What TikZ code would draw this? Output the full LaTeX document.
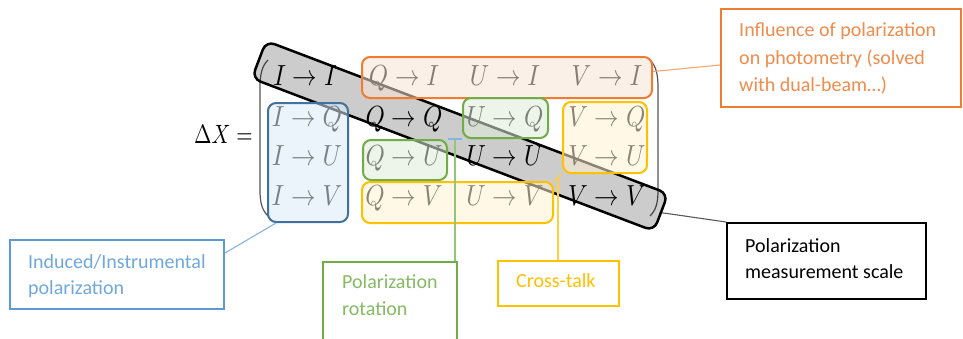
\documentclass[tikz,border=0pt]{standalone}
\usepackage{fontspec}
\usepackage{graphicx}
\newfontfamily\carlito{Carlito}
\usetikzlibrary{calc}
\definecolor{cOr}{HTML}{ED7D31}
\definecolor{cOrF}{RGB}{247,227,214}
\definecolor{cOrL}{HTML}{F4A66E}
\definecolor{cOrT}{HTML}{F08C4C}
\definecolor{cBlD}{HTML}{41719C}
\definecolor{cBlF}{RGB}{218,233,247}
\definecolor{cBl}{HTML}{5B9BD5}
\definecolor{cBlL}{HTML}{85B4E2}
\definecolor{cBlT}{HTML}{6FA8DC}
\definecolor{cGr}{HTML}{70AD47}
\definecolor{cGrF}{RGB}{223,236,217}
\definecolor{cGrL}{HTML}{95C677}
\definecolor{cGrT}{HTML}{86BA63}
\definecolor{cYe}{HTML}{FFC000}
\definecolor{cYeF}{RGB}{255,242,209}
\definecolor{cYeL}{HTML}{FFCF40}
\definecolor{cPar}{HTML}{555555}
\newcommand\mxe[1]{\scalebox{2.45}[2.91]{$#1$}}
\begin{document}
\begin{tikzpicture}[x=1pt,y=-1pt,
  entry/.style={inner sep=0pt, anchor=base},
  mbox/.style={rounded corners=8pt, line width=2pt, fill opacity=0.55, draw opacity=1, inner sep=0pt},
  bandbox/.style={rounded corners=9pt, line width=2.5pt, draw=black, fill=black, fill opacity=0.2, inner sep=0pt},
  lbox/.style={line width=2pt, inner sep=0pt, fill=white},
  ltext/.style={inner sep=0pt, anchor=north west, align=left, font=\carlito\fontsize{20}{26.5}\selectfont},
  conn/.style={line width=1.1pt}
]
\useasboundingbox (0,0) rectangle (963,338);

% parentheses
\draw[cPar, line width=1.2pt] (268,60) .. controls (262,66) and (260,74) .. (260,88) -- (260,190) .. controls (260,203) and (262,210) .. (268,216);
\draw[cPar, line width=1.2pt] (650,60) .. controls (656,66) and (658,74) .. (658,88) -- (658,190) .. controls (658,203) and (656,210) .. (650,216);

% Delta X =
\node[inner sep=0pt, anchor=base east] (dx) at (253,143) {\scalebox{2.1}[2.65]{$\Delta X =$}};

% matrix entries
\node[entry] (e11) at (305,85) {\mxe{I\rightarrow I}};
\node[entry] (e12) at (404,85) {\mxe{Q\rightarrow I}};
\node[entry] (e13) at (505,85) {\mxe{U\rightarrow I}};
\node[entry] (e14) at (607,85) {\mxe{V\rightarrow I}};
\node[entry] (e21) at (307,126) {\mxe{I\rightarrow Q}};
\node[entry] (e22) at (404,126) {\mxe{Q\rightarrow Q}};
\node[entry] (e23) at (505,126) {\mxe{U\rightarrow Q}};
\node[entry] (e24) at (607,126) {\mxe{V\rightarrow Q}};
\node[entry] (e31) at (307,165) {\mxe{I\rightarrow U}};
\node[entry] (e32) at (404,165) {\mxe{Q\rightarrow U}};
\node[entry] (e33) at (505,165) {\mxe{U\rightarrow U}};
\node[entry] (e34) at (607,165) {\mxe{V\rightarrow U}};
\node[entry] (e41) at (307,205) {\mxe{I\rightarrow V}};
\node[entry] (e42) at (404,205) {\mxe{Q\rightarrow V}};
\node[entry] (e43) at (505,205) {\mxe{U\rightarrow V}};
\node[entry] (e44) at (607,205) {\mxe{V\rightarrow V}};

% diagonal band
\node[bandbox, rotate=-20.8, minimum width=430pt, minimum height=40pt] (band) at (460,136) {};

% coloured boxes
\node[mbox, draw=cOr, fill=cOrF, minimum width=290pt, minimum height=41pt] (mo) at (507,77.5) {};
\node[mbox, draw=cBlD, fill=cBlF, minimum width=80pt, minimum height=119pt] (mb) at (308,162.5) {};
\node[mbox, draw=cGr, fill=cGrF, minimum width=85pt, minimum height=40pt] (mgu) at (505.5,118) {};
\node[mbox, draw=cGr, fill=cGrF, minimum width=84pt, minimum height=40pt] (mgq) at (405,160) {};
\node[mbox, draw=cYe, fill=cYeF, minimum width=84pt, minimum height=71pt] (yvq) at (605,137.5) {};
\node[mbox, draw=cYe, fill=cYeF, minimum width=191pt, minimum height=41pt] (yqv) at (457.5,202.5) {};

% label boxes
\node[lbox, draw=cOr, minimum width=240pt, minimum height=98pt] (ob) at (841,58) {};
\node[lbox, draw=cBl, minimum width=214pt, minimum height=69pt] (bb) at (117,274.5) {};
\node[lbox, draw=cGr, minimum width=134pt, minimum height=78pt] (gb) at (390,301) {};
\node[lbox, draw=cYe, minimum width=121pt, minimum height=45pt] (yb) at (558.5,283.5) {};
\node[lbox, draw=black, minimum width=199pt, minimum height=76pt] (kb) at (826.5,261) {};

% label texts
\node[ltext, text=cOrT, font=\carlito\fontsize{20}{27.3}\selectfont] (ot) at (739,20.5) {\rule{0pt}{16pt}Influence of polarization\\on photometry (solved\\with dual-beam…)};
\node[ltext, text=cBlT] (bt) at (28,252) {\rule{0pt}{16pt}Induced/Instrumental\\polarization};
\node[ltext, text=cGrT, font=\carlito\fontsize{20}{27}\selectfont] (gt) at (342,272) {\rule{0pt}{16pt}Polarization\\rotation};
\node[ltext, text=cYe] (yt) at (516,271) {\rule{0pt}{16pt}Cross-talk};
\node[ltext, text=black] (kt) at (745,236) {\rule{0pt}{16pt}Polarization\\measurement scale};

% connectors
\draw[conn, cOrL] ([yshift=6pt]mo.east) -- ([yshift=-7pt]ob.west);
\draw[conn, cBlL] ([xshift=9pt]mb.south west) -- ([yshift=21.5pt]bb.east);
\draw[conn, cBlL] (mgq.north east) -- (mgu.south west);
\coordinate (gj) at ($(mgq.north east)!0.5!(mgu.south west)$);
\draw[conn, cGrL] (gj) -- (gj |- gb.north);
\draw[conn, cYeL] (yqv.north east) -- (yvq.south west);
\coordinate (yj) at ($(yqv.north east)!0.5!(yvq.south west)$);
\draw[conn, cYeL] (yj) -- (yj |- yb.north);
\draw[conn, black!65] (band.east) -- (kb.north west);
\end{tikzpicture}
\end{document}
